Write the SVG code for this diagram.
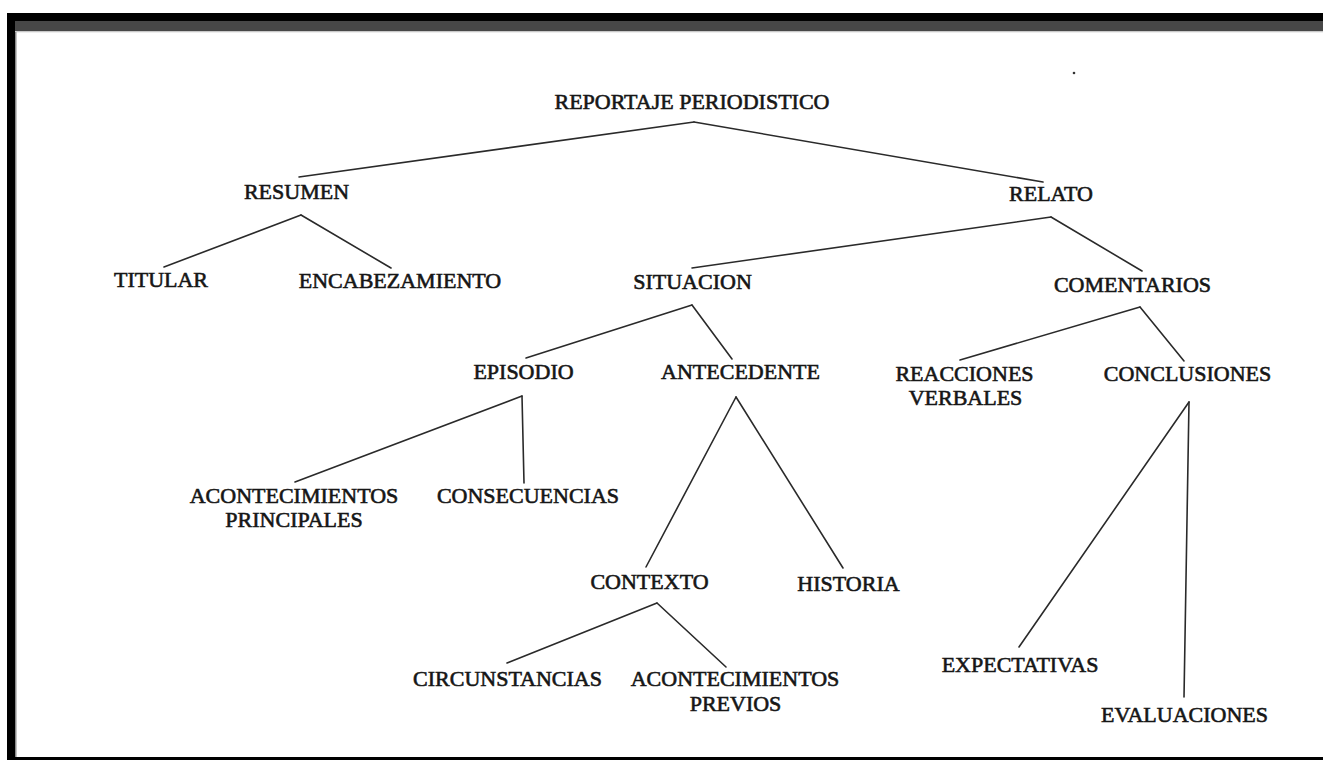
<svg xmlns="http://www.w3.org/2000/svg" width="1323" height="760" viewBox="0 0 1323 760">
<style>
.lbl{font-family:"Liberation Serif","Times New Roman",serif;font-size:22px;fill:#161616;stroke:#161616;stroke-width:0.6;text-anchor:middle}
.edge{stroke:#2a2a2a;stroke-width:1.6;fill:none;stroke-linecap:round}
</style>
<rect x="0" y="0" width="1323" height="760" fill="#ffffff"/>
<g id="frame">
<rect x="7" y="13" width="1316" height="8" fill="#000"/>
<rect x="15" y="21" width="1308" height="10" fill="#474747"/>
<rect x="15" y="31" width="1308" height="1.3" fill="#c8c8c8"/>
<rect x="7" y="13" width="8" height="747" fill="#000"/>
<rect x="15" y="32" width="1.5" height="725" fill="#8a8a8a"/>
<rect x="7" y="757" width="1316" height="3" fill="#000"/>
<circle cx="1074" cy="73" r="1.3" fill="#333"/>
</g>
<g id="connectors">
<line class="edge" x1="694" y1="122" x2="299" y2="177"/>
<line class="edge" x1="694" y1="122" x2="1043" y2="182"/>
<line class="edge" x1="301" y1="215" x2="164" y2="267"/>
<line class="edge" x1="301" y1="215" x2="391" y2="268"/>
<line class="edge" x1="1051" y1="217" x2="692" y2="268"/>
<line class="edge" x1="1051" y1="217" x2="1142" y2="271"/>
<line class="edge" x1="692" y1="305" x2="526" y2="358"/>
<line class="edge" x1="692" y1="305" x2="732" y2="359"/>
<line class="edge" x1="1140" y1="307" x2="960" y2="360"/>
<line class="edge" x1="1140" y1="307" x2="1184" y2="361"/>
<line class="edge" x1="522" y1="396" x2="295" y2="482"/>
<line class="edge" x1="522" y1="396" x2="524" y2="483"/>
<line class="edge" x1="736" y1="397" x2="646" y2="567"/>
<line class="edge" x1="736" y1="397" x2="843" y2="568"/>
<line class="edge" x1="657" y1="603" x2="507" y2="663"/>
<line class="edge" x1="657" y1="603" x2="726" y2="667"/>
<line class="edge" x1="1189" y1="402" x2="1019" y2="647"/>
<line class="edge" x1="1189" y1="402" x2="1184" y2="697"/>
</g>
<g id="n-reportaje"><text class="lbl" x="692" y="109">REPORTAJE PERIODISTICO</text></g>
<g id="n-resumen"><text class="lbl" x="296.5" y="199">RESUMEN</text></g>
<g id="n-relato"><text class="lbl" x="1051" y="201">RELATO</text></g>
<g id="n-titular"><text class="lbl" x="161" y="287">TITULAR</text></g>
<g id="n-encabezamiento"><text class="lbl" x="400" y="288">ENCABEZAMIENTO</text></g>
<g id="n-situacion"><text class="lbl" x="692.5" y="289">SITUACION</text></g>
<g id="n-comentarios"><text class="lbl" x="1132.5" y="292">COMENTARIOS</text></g>
<g id="n-episodio"><text class="lbl" x="523.5" y="379">EPISODIO</text></g>
<g id="n-antecedente"><text class="lbl" x="740.5" y="379">ANTECEDENTE</text></g>
<g id="n-reacciones"><text class="lbl" x="964.5" y="381">REACCIONES</text><text class="lbl" x="965.5" y="405">VERBALES</text></g>
<g id="n-conclusiones"><text class="lbl" x="1187.5" y="381">CONCLUSIONES</text></g>
<g id="n-acont-principales"><text class="lbl" x="294" y="503">ACONTECIMIENTOS</text><text class="lbl" x="294" y="527">PRINCIPALES</text></g>
<g id="n-consecuencias"><text class="lbl" x="528" y="503">CONSECUENCIAS</text></g>
<g id="n-contexto"><text class="lbl" x="649.5" y="589">CONTEXTO</text></g>
<g id="n-historia"><text class="lbl" x="848.5" y="591">HISTORIA</text></g>
<g id="n-circunstancias"><text class="lbl" x="507.5" y="686">CIRCUNSTANCIAS</text></g>
<g id="n-acont-previos"><text class="lbl" x="735" y="686">ACONTECIMIENTOS</text><text class="lbl" x="735.5" y="711">PREVIOS</text></g>
<g id="n-expectativas"><text class="lbl" x="1020" y="672">EXPECTATIVAS</text></g>
<g id="n-evaluaciones"><text class="lbl" x="1184.5" y="722">EVALUACIONES</text></g>
</svg>
